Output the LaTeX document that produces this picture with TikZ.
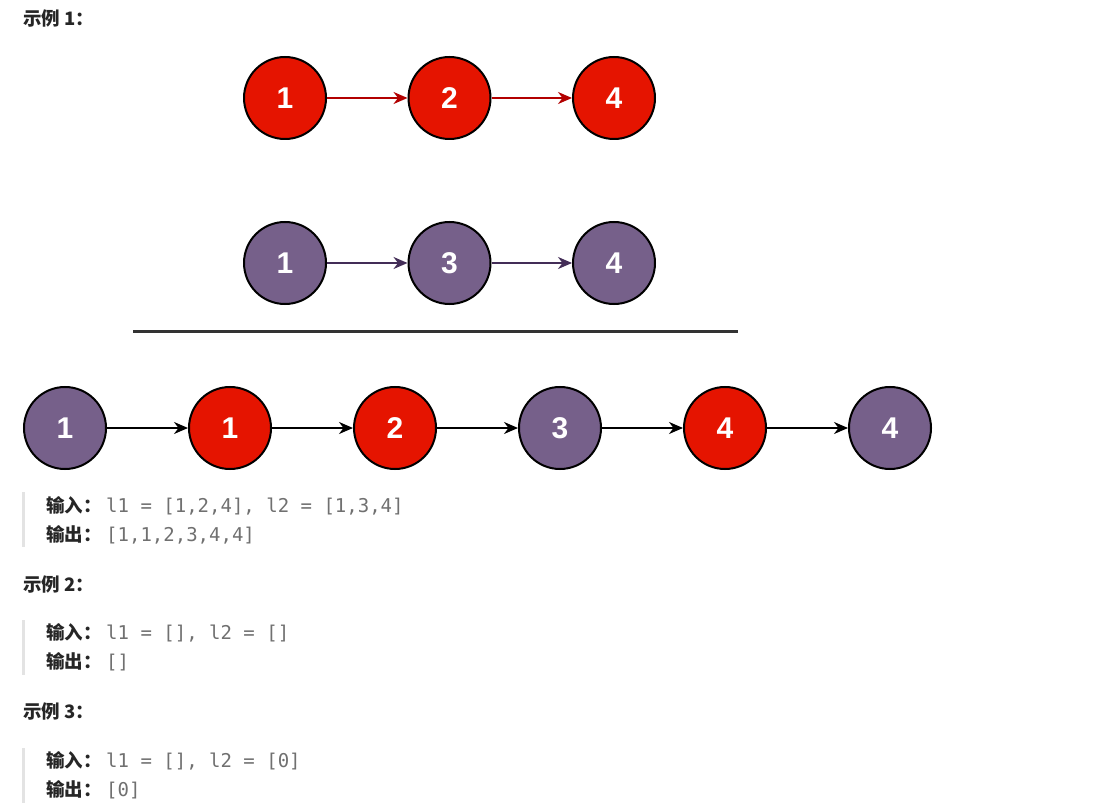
\documentclass[tikz,border=0pt]{standalone}
\usepackage{fontspec}
\usetikzlibrary{arrows.meta}
\newfontfamily\cjk{Noto Sans CJK SC}
\newfontfamily\codefont{DejaVu Sans Mono}
\newfontfamily\ballfont{Liberation Sans}
\definecolor{listred}{HTML}{E51400}
\definecolor{listpurple}{HTML}{76608A}
\definecolor{redline}{HTML}{B20000}
\definecolor{purpleline}{HTML}{432D57}
\definecolor{codegray}{HTML}{707070}
\definecolor{bargray}{HTML}{E3E3E3}

\begin{document}
\begin{tikzpicture}[x=1pt,y=1pt,
  ball/.style={circle,draw=black,line width=2pt,minimum size=82pt,inner sep=0pt,
    text=white,font=\ballfont\bfseries\fontsize{30}{30}\selectfont},
  redball/.style={ball,fill=listred},
  purpleball/.style={ball,fill=listpurple},
  link/.style={line width=2pt,-{Stealth[length=14pt,width=12pt]}},
  title/.style={anchor=base west,inner sep=0pt,text=black!85,
    font=\cjk\bfseries\fontsize{18.5}{18.5}\selectfont},
  code/.style={anchor=base west,inner sep=0pt,text=codegray,
    font=\codefont\fontsize{19}{19}\selectfont}]

\fill[white] (0,0) rectangle (1111,-810);
\useasboundingbox (0,0) rectangle (1111,-810);

% example 1
\node[title] (ex1) at (23,-26) {示例 1：};

% l1
\foreach \v [count=\i] in {1,2,4}{
	\node[redball] (a\i) at ({285+164.5*(\i-1)},-98) {\v};
}
\foreach \a/\b in {1/2,2/3}{
	\draw[link,redline] (a\a) -- (a\b);
}

% l2
\foreach \v [count=\i] in {1,3,4}{
	\node[purpleball] (b\i) at ({285+164.5*(\i-1)},-263) {\v};
}
\foreach \a/\b in {1/2,2/3}{
	\draw[link,purpleline] (b\a) -- (b\b);
}

\draw[line width=3pt,black!80] (133,-331) -- (738,-331);

% merged
\foreach \v/\s [count=\i] in {1/purpleball,1/redball,2/redball,3/purpleball,4/redball,4/purpleball}{
	\node[\s] (m\i) at ({65+165*(\i-1)},-428) {\v};
}
\foreach \a/\b in {1/2,2/3,3/4,4/5,5/6}{
	\draw[link,black] (m\a) -- (m\b);
}

\fill[bargray] (22,-492) rectangle (25,-547);
\node[title] (in1) at (46,-512) {输入：};
\node[code] (in1v) at (106,-512) {l1 = [1,2,4], l2 = [1,3,4]};
\node[title] (out1) at (46,-541) {输出：};
\node[code] (out1v) at (106,-541) {[1,1,2,3,4,4]};

% example 2
\node[title] (ex2) at (23,-591) {示例 2：};
\fill[bargray] (22,-620) rectangle (25,-675);
\node[title] (in2) at (46,-639) {输入：};
\node[code] (in2v) at (106,-639) {l1 = [], l2 = []};
\node[title] (out2) at (46,-668) {输出：};
\node[code] (out2v) at (106,-668) {[]};

% example 3
\node[title] (ex3) at (23,-718) {示例 3：};
\fill[bargray] (22,-748) rectangle (25,-803);
\node[title] (in3) at (46,-767) {输入：};
\node[code] (in3v) at (106,-767) {l1 = [], l2 = [0]};
\node[title] (out3) at (46,-796) {输出：};
\node[code] (out3v) at (106,-796) {[0]};

\end{tikzpicture}
\end{document}
